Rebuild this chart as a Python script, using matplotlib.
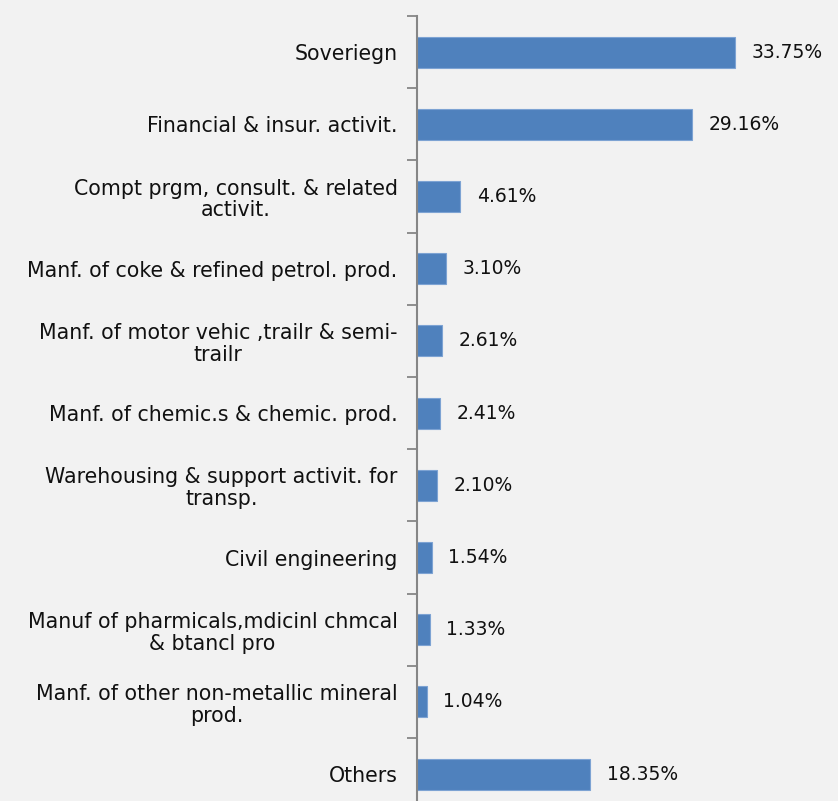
import matplotlib
matplotlib.use("Agg")
import matplotlib.pyplot as plt
import numpy as np

# Sector shares of the portfolio (%)
sectors = [
    "Soveriegn",
    "Financial & insur. activit.",
    "Compt prgm, consult. & related\nactivit.",
    "Manf. of coke & refined petrol. prod.",
    "Manf. of motor vehic ,trailr & semi-\ntrailr",
    "Manf. of chemic.s & chemic. prod.",
    "Warehousing & support activit. for\ntransp.",
    "Civil engineering",
    "Manuf of pharmicals,mdicinl chmcal\n& btancl pro",
    "Manf. of other non-metallic mineral\nprod.",
    "Others",
]
shares = [33.75, 29.16, 4.61, 3.10, 2.61, 2.41, 2.10, 1.54, 1.33, 1.04, 18.35]

BG = "#f2f2f2"
BAR = "#4f81bd"
AXIS = "#868686"
TXT = "#111111"

plt.rcParams["font.family"] = ["DejaVu Sans"]

fig = plt.figure(figsize=(8.38, 8.01), dpi=100, facecolor=BG)
W, H = 838, 801
n = len(sectors)
top_px, step_px = 16, 72.2
bottom_px = top_px + step_px * n
ax = fig.add_axes([417 / W, 1 - bottom_px / H, (W - 417) / W, (bottom_px - top_px) / H])
ax.set_facecolor(BG)

y = np.arange(n)
ax.barh(y, shares, height=0.43, color=BAR, edgecolor="#7da3d3", linewidth=0.8)
ax.set_ylim(n - 0.5, -0.5)
ax.set_xlim(0, (W - 417) / 9.42)

for yi, v in zip(y, shares):
    ax.annotate(f"{v:.2f}%", (v, yi), xytext=(12, 0), textcoords="offset points",
                va="center", ha="left", fontsize=13.5, color=TXT)

ax.set_yticks(y)
ax.set_yticklabels(sectors, fontsize=14.8, color=TXT)
for lbl in ax.get_yticklabels():
    lbl.set_multialignment("center")
    lbl.set_linespacing(1.12)
ax.tick_params(axis="y", which="major", length=0, pad=14)
ax.set_yticks(np.arange(-0.5, n, 1), minor=True)
ax.tick_params(axis="y", which="minor", length=7, width=1.3, color=AXIS)
ax.set_xticks([])

for side in ["top", "right", "bottom"]:
    ax.spines[side].set_visible(False)
ax.spines["left"].set_color(AXIS)
ax.spines["left"].set_linewidth(1.5)

fig.savefig("out.png", dpi=100, facecolor=BG)
